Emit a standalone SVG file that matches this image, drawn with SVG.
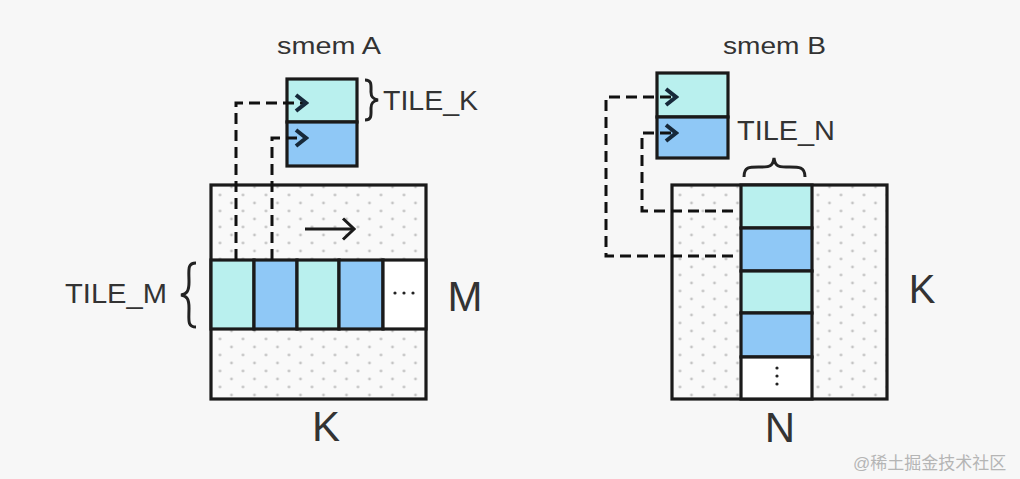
<svg xmlns="http://www.w3.org/2000/svg" width="1020" height="479" viewBox="0 0 1020 479">
<defs>
<pattern id="dots" x="1.5" y="-1" width="23" height="16" patternUnits="userSpaceOnUse">
<rect width="23" height="16" fill="#f9f9f9"/>
<circle cx="11.5" cy="4" r="1.4" fill="#c4c4c4"/>
<circle cx="0" cy="12" r="1.4" fill="#c4c4c4"/>
<circle cx="23" cy="12" r="1.4" fill="#c4c4c4"/>
</pattern>
<marker id="chev" viewBox="0 0 15 20" refX="13" refY="10" markerWidth="15" markerHeight="20" markerUnits="userSpaceOnUse" orient="auto">
<path d="M2,2 L12,10 L2,18" fill="none" stroke="#17293a" stroke-width="4"/>
</marker>
<marker id="arr" viewBox="0 0 15 24" refX="13" refY="12" markerWidth="15" markerHeight="24" markerUnits="userSpaceOnUse" orient="auto">
<path d="M2,1.5 L13,12 L2,22.5" fill="none" stroke="#1a1a1a" stroke-width="3"/>
</marker>
</defs>
<style>
.lbl{font-family:"Liberation Sans",Arial,sans-serif;fill:#333;}
.box{stroke:#1a1a1a;stroke-width:3.2;}
.cy{fill:#b9f0ee;}
.bl{fill:#8fc8f6;}
.wh{fill:#ffffff;}
.dash{fill:none;stroke:#111;stroke-width:3;stroke-dasharray:11,6;}
.brace{fill:none;stroke:#222;stroke-width:3;}
</style>
<rect width="1020" height="479" fill="#f7f7f7"/>

<g id="matrixA">
<rect x="211" y="185" width="215" height="214" fill="url(#dots)" class="box"/>
<rect x="211" y="260" width="43" height="69" class="cy box"/>
<rect x="254" y="260" width="43" height="69" class="bl box"/>
<rect x="297" y="260" width="42" height="69" class="cy box"/>
<rect x="339" y="260" width="44" height="69" class="bl box"/>
<rect x="383" y="260" width="43" height="69" class="wh box"/>
<circle cx="395" cy="293" r="1.6" fill="#222"/>
<circle cx="404" cy="293" r="1.6" fill="#222"/>
<circle cx="413" cy="293" r="1.6" fill="#222"/>
<line x1="305" y1="229" x2="354" y2="229" stroke="#1a1a1a" stroke-width="3" marker-end="url(#arr)"/>
<text class="lbl" x="326" y="441" font-size="42" text-anchor="middle">K</text>
<text class="lbl" x="465" y="311" font-size="42" text-anchor="middle">M</text>
<text class="lbl" x="65" y="303" font-size="28" textLength="102" lengthAdjust="spacingAndGlyphs">TILE_M</text>
<path class="brace" d="M196,263 C187,263 189,270 189,282 C189,291 187,294 181,295 C187,296 189,299 189,308 C189,320 187,327 196,327"/>
</g>

<g id="smemA">
<rect x="287" y="79" width="70" height="43" class="cy box"/>
<rect x="287" y="122" width="70" height="44" class="bl box"/>
<text class="lbl" x="277" y="54" font-size="23" textLength="104" lengthAdjust="spacingAndGlyphs">smem A</text>
<path class="brace" d="M365,80 C372,80 371,85 371,92 C371,97 373,99 378,100 C373,101 371,103 371,108 C371,115 372,120 365,120"/>
<text class="lbl" x="383" y="110" font-size="28" textLength="95" lengthAdjust="spacingAndGlyphs">TILE_K</text>
</g>

<g id="matrixB">
<rect x="672" y="185" width="215" height="214" fill="url(#dots)" class="box"/>
<rect x="741" y="185" width="71" height="43" class="cy box"/>
<rect x="741" y="228" width="71" height="43" class="bl box"/>
<rect x="741" y="271" width="71" height="42" class="cy box"/>
<rect x="741" y="313" width="71" height="44" class="bl box"/>
<rect x="741" y="357" width="71" height="42" class="wh box"/>
<circle cx="777" cy="368" r="1.6" fill="#222"/>
<circle cx="777" cy="376" r="1.6" fill="#222"/>
<circle cx="777" cy="384" r="1.6" fill="#222"/>
<text class="lbl" x="780" y="442" font-size="42" text-anchor="middle">N</text>
<text class="lbl" x="922" y="303" font-size="40" text-anchor="middle">K</text>
</g>

<g id="smemB">
<rect x="657" y="73" width="71" height="44" class="cy box"/>
<rect x="657" y="117" width="71" height="41" class="bl box"/>
<text class="lbl" x="723" y="54" font-size="23" textLength="103" lengthAdjust="spacingAndGlyphs">smem B</text>
<text class="lbl" x="737" y="140" font-size="28" textLength="98" lengthAdjust="spacingAndGlyphs">TILE_N</text>
<path class="brace" d="M744,177 C744,166 750,167 762,167 C771,167 773,165 774,158 C775,165 777,167 786,167 C798,167 805,166 805,177"/>
</g>

<g id="connectors">
<path class="dash" d="M236,260 V103 H307" marker-end="url(#chev)"/>
<path class="dash" d="M272,260 V138 H307" marker-end="url(#chev)"/>
<path class="dash" d="M733,256 H606 V97 H677" marker-end="url(#chev)"/>
<path class="dash" d="M733,211 H642 V133 H677" marker-end="url(#chev)"/>
</g>

<text x="853" y="469" font-size="17" fill="#b5b5b5" font-family="'Liberation Sans','Noto Sans CJK SC',sans-serif">@稀土掘金技术社区</text>
</svg>
